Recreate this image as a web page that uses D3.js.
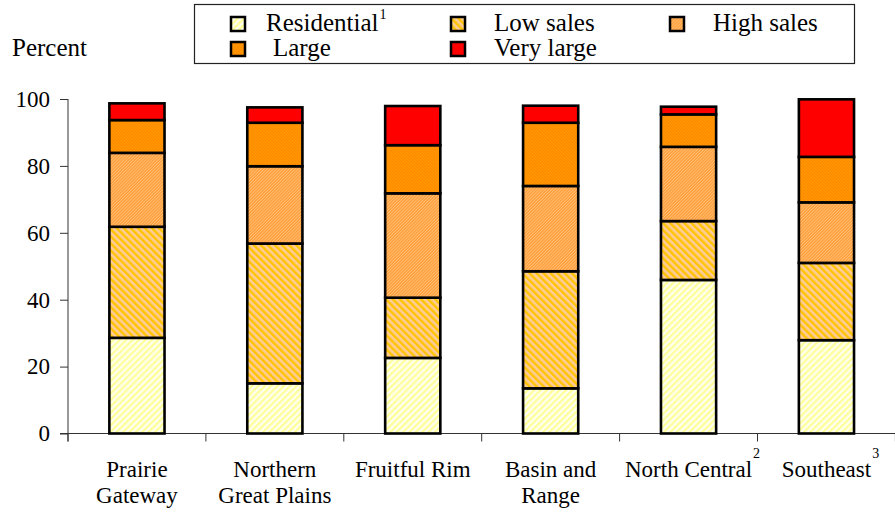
<!DOCTYPE html>
<html>
<head>
<meta charset="utf-8">
<script src="https://cdn.jsdelivr.net/npm/d3@7"></script>
<style>
  html, body { margin: 0; padding: 0; background: #fff; }
  svg { display: block; font-family: "Liberation Serif", "Times New Roman", serif; }
</style>
</head>
<body>
<svg id="chart" width="895" height="514"></svg>
<script>
// Farm typology shares by resource region (percent of farms)
const regions = ["Prairie Gateway", "Northern Great Plains", "Fruitful Rim", "Basin and Range", "North Central", "Southeast"];
const regionLines = [["Prairie", "Gateway"], ["Northern", "Great Plains"], ["Fruitful Rim"], ["Basin and", "Range"], ["North Central"], ["Southeast"]];
const regionNotes = ["", "", "", "", "2", "3"];

const seriesKeys = ["Residential", "Low sales", "High sales", "Large", "Very large"];
const seriesNotes = ["1", "", "", "", ""];

const residential = [28.6, 15.0, 22.6, 13.5, 45.9, 27.9];
const lowSales    = [33.2, 41.8, 18.0, 35.0, 17.6, 23.1];
const highSales   = [22.1, 23.1, 31.2, 25.5, 22.2, 18.1];
const large       = [9.8, 13.0, 14.4, 18.9, 9.7, 13.6];
const veryLarge   = [5.0, 4.6, 11.7, 5.1, 2.3, 17.2];

const yTicks = [0, 20, 40, 60, 80, 100];

const seriesValues = [residential, lowSales, highSales, large, veryLarge];
const rows = regions.map((r, i) => {
  const o = { region: r };
  seriesKeys.forEach((k, j) => { o[k] = seriesValues[j][i]; });
  return o;
});

const svg = d3.select("#chart");
const defs = svg.append("defs");

// Striped / hatched fills
function stripes(id, bg, fg, size, thick, angle) {
  const p = defs.append("pattern")
    .attr("id", id)
    .attr("patternUnits", "userSpaceOnUse")
    .attr("width", size).attr("height", size)
    .attr("patternTransform", `rotate(${angle})`);
  p.append("rect").attr("width", size).attr("height", size).attr("fill", bg);
  p.append("rect").attr("width", thick).attr("height", size).attr("fill", fg);
}
stripes("pat-res", "#FFFFF0", "#FFFF99", 4.5, 2.2, 45);
stripes("pat-low", "#FFCC99", "#FFC400", 5, 2.4, -45);
stripes("pat-high", "#FF9A33", "#FFC078", 2.2, 1.0, 45);
stripes("pat-large", "#FF9C00", "#FF8400", 2.2, 1.0, -45);

const fills = {
  "Residential": "url(#pat-res)",
  "Low sales": "url(#pat-low)",
  "High sales": "url(#pat-high)",
  "Large": "url(#pat-large)",
  "Very large": "#FF0000"
};

const x = d3.scaleBand()
  .domain(regions)
  .range([68, 895.4])
  .paddingInner(0.6)
  .paddingOuter(0.3);

const y = d3.scaleLinear().domain([0, 100]).range([433.5, 99]);

// Y axis
const yAxis = svg.append("g")
  .attr("transform", "translate(68,0)")
  .call(d3.axisLeft(y).tickValues(yTicks).tickSize(8).tickPadding(10).tickFormat(d3.format("d")));
yAxis.select(".domain").attr("stroke", "#333").attr("d", `M0,${y(100)}V${y(0) + 8}`);
yAxis.selectAll(".tick line").attr("stroke", "#333");
yAxis.selectAll(".tick text")
  .attr("font-family", "Liberation Serif, serif")
  .attr("font-size", 23)
  .attr("fill", "#000");

// X axis baseline and category separators
svg.append("line")
  .attr("x1", 60).attr("x2", 895)
  .attr("y1", y(0)).attr("y2", y(0))
  .attr("stroke", "#333");
const bounds = d3.range(regions.length + 1).map(i => x.range()[0] + i * x.step());
svg.selectAll(".xtick").data(bounds).join("line")
  .attr("class", "xtick")
  .attr("x1", d => d).attr("x2", d => d)
  .attr("y1", y(0)).attr("y2", y(0) + 8)
  .attr("stroke", "#333");

// Stacked bars
const stack = d3.stack().keys(seriesKeys)(rows);
svg.append("g").selectAll("g").data(stack).join("g")
  .attr("fill", d => fills[d.key])
  .selectAll("rect").data(d => d).join("rect")
  .attr("x", d => x(d.data.region))
  .attr("width", x.bandwidth())
  .attr("y", d => y(d[1]))
  .attr("height", d => y(d[0]) - y(d[1]))
  .attr("stroke", "#000")
  .attr("stroke-width", 2.6);

// Category labels
const labels = svg.append("g").attr("font-size", 23).attr("fill", "#000");
regions.forEach((r, i) => {
  const cx = x(r) + x.bandwidth() / 2;
  regionLines[i].forEach((line, k) => {
    const t = labels.append("text")
      .attr("x", cx)
      .attr("y", 477 + k * 26)
      .attr("text-anchor", "middle")
      .text(line);
    if (k === 0 && regionNotes[i]) {
      const w = t.node().getComputedTextLength();
      labels.append("text")
        .attr("x", cx + w / 2 + 1)
        .attr("y", 458)
        .attr("font-size", 14)
        .text(regionNotes[i]);
    }
  });
});

// Y axis title
svg.append("text")
  .attr("x", 12).attr("y", 56)
  .attr("font-size", 25)
  .text("Percent");

// Legend
const legend = svg.append("g");
legend.append("rect")
  .attr("x", 194.5).attr("y", 4.5)
  .attr("width", 660).attr("height", 59)
  .attr("fill", "#fff").attr("stroke", "#222").attr("stroke-width", 1.2);

const legendPos = [
  { sx: 231, tx: 266, row: 0 },
  { sx: 451, tx: 494, row: 0 },
  { sx: 670, tx: 713, row: 0 },
  { sx: 231, tx: 273, row: 1 },
  { sx: 451, tx: 494, row: 1 }
];
seriesKeys.forEach((k, i) => {
  const p = legendPos[i];
  const base = 31 + p.row * 25;
  legend.append("rect")
    .attr("x", p.sx).attr("y", base - 14)
    .attr("width", 14).attr("height", 14)
    .attr("fill", fills[k])
    .attr("stroke", "#000").attr("stroke-width", 2.5);
  const t = legend.append("text")
    .attr("x", p.tx).attr("y", base)
    .attr("font-size", 25)
    .text(k);
  if (seriesNotes[i]) {
    const w = t.node().getComputedTextLength();
    legend.append("text")
      .attr("x", p.tx + w + 1).attr("y", base - 12)
      .attr("font-size", 14)
      .text(seriesNotes[i]);
  }
});
</script>
</body>
</html>
